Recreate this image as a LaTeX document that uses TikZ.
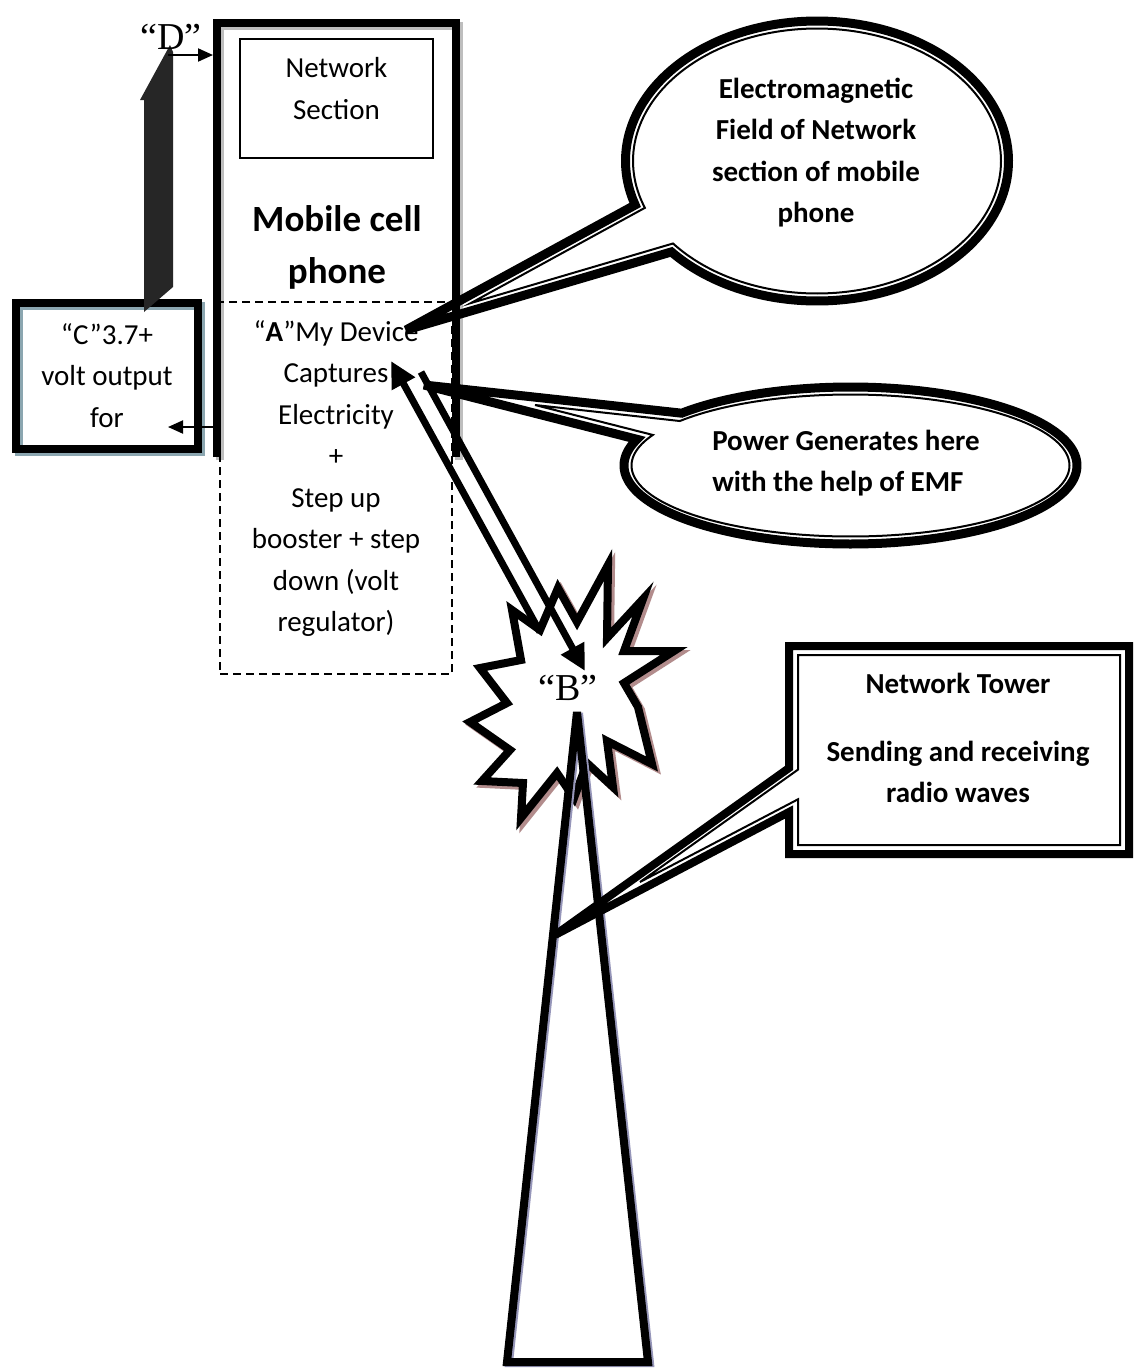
\documentclass[tikz,border=0pt]{standalone}
\usepackage{fontspec}
\setmainfont{Carlito}
\newfontfamily\timesfont{Liberation Serif}
\usetikzlibrary{calc,arrows.meta}

\definecolor{padgrey}{RGB}{190,190,190}
\definecolor{cboxgrey}{RGB}{139,166,176}
\definecolor{starshade}{RGB}{178,140,140}
\definecolor{towershade}{RGB}{150,150,185}
\definecolor{blockarrow}{RGB}{38,38,38}

\def\txtsize{\fontsize{29}{41.5}\selectfont}
\def\ovalpath(#1,#2)(#3:#4)(#5:#6){plot[domain=#5:#6, samples=180] ({#1+#3*cos(\x)},{#2+#4*sin(\x)})}
\def\burst{(608,565) -- (607,638) -- (643,599) -- (624,651) -- (674,651) -- (624,683) -- (638,707) -- (652,764) -- (607,741) -- (613,787) -- (587,763) -- (574,798) -- (557,773) -- (521,818) -- (523,783) -- (482,781) -- (510,750) -- (470,722) -- (507,703) -- (480,668) -- (521,660) -- (512,610) -- (540,630) -- (558,588) -- (577,622) -- cycle}

\begin{document}
\begin{tikzpicture}[x=1pt, y=-1pt,
		thinarrow/.style={line width=2pt, -{Triangle[length=15pt, width=13pt]}},
		fatarrow/.style={line width=7pt, -{Triangle[length=26pt, width=25pt]}},
		bodytext/.style={font=\txtsize, align=center},
		boldtext/.style={font=\bfseries\txtsize, align=center},
		quotemark/.style={font=\timesfont\fontsize{38}{42}\selectfont}]
		%%%%% START %%%%%
		
		\fill[white] (0,0) rectangle (1134,1371);
		\useasboundingbox (0,0) rectangle (1134,1371);
		
		% mobile phone
		\draw[line width=8pt, padgrey] (220,460) -- (220,26) -- (459,26) -- (459,460);
		\draw[line width=8pt] (217,457) -- (217,23) -- (456,23) -- (456,457);
		\node[draw, line width=1.5pt, minimum width=193pt, minimum height=119pt] (netbox) at (336.5,98.5) {};
		\node[bodytext] (nettext) at (336.5,88.5) {Network\\Section};
		\node[font=\bfseries\fontsize{37}{52}\selectfont, align=center] (phonetitle) at (337,247) {Mobile cell\\phone};
		
		\node[draw, line width=2pt, dash pattern=on 8pt off 5pt, minimum width=232pt, minimum height=372pt] (devbox) at (336,488) {};
		\node[bodytext] (devtext) at (336,478.5) {“\textbf{A}”My Device\\Captures\\Electricity\\+\\Step up\\booster + step\\down (volt\\regulator)};
		
		% output box C
		\draw[line width=8pt, cboxgrey] (19,306) rectangle (201,452);
		\node[draw, line width=8pt, minimum width=182pt, minimum height=146pt] (cbox) at (107,376) {};
		\node[bodytext] (ctext) at (107,375.5) {“C”3.7+\\volt output\\for};
		
		\fill[blockarrow] (144,312) -- (144,100) -- (140,100) -- (170,45) -- (173,52) -- (173,287) -- cycle;
		\node[quotemark] (dlabel) at (171,37) {“D”};
		\coordinate (dfoot) at (168,55);
		\coordinate (phoneside) at (213,55);
		\draw[thinarrow] (dfoot) -- (phoneside);
		\coordinate (devside) at (220,427);
		\coordinate (cside) at (168,427);
		\draw[thinarrow] (devside) -- (cside);
		
		% callouts
		\fill[white] (817,161) ellipse [x radius=191.5, y radius=140];
		\draw[line width=9pt, miter limit=5] \ovalpath(817,161)(191.5:140)(161.7:499.5) -- (406,330) -- cycle;
		\draw[line width=2pt] \ovalpath(817,161)(184:132.5)(159.3:501.5) -- (471,303) -- cycle;
		\node[boldtext] (emftext) at (816,152.5) {Electromagnetic\\Field of Network\\section of mobile\\phone};
		
		\fill[white] (850.5,465.5) ellipse [x radius=226.5, y radius=78.5];
		\draw[line width=9pt, miter limit=5] \ovalpath(850.5,465.5)(226.5:78.5)(221.8:559.5) -- (424,385) -- cycle;
		\draw[line width=2pt] \ovalpath(850.5,465.5)(219:71)(218.8:565.5) -- (535,405) -- cycle;
		\node[boldtext, align=left] (powertext) at (846,463) {Power Generates here\\with the help of EMF};
		
		% burst B and tower
		\draw[line width=8pt, starshade, shift={(3,3)}] \burst;
		\draw[line width=8pt, fill=white] \burst;
		\draw[line width=8pt, towershade, miter limit=3, shift={(2,1)}] (577,712) -- (507,1362) -- (648,1362) -- cycle;
		\draw[line width=8pt, miter limit=3] (577,712) -- (507,1362) -- (648,1362) -- cycle;
		
		\coordinate (upfoot) at (540,632);
		\coordinate (uphead) at (391,361);
		\coordinate (downfoot) at (421,372);
		\coordinate (downhead) at (585,671);
		\draw[fatarrow] (upfoot) -- (uphead);
		\draw[fatarrow] (downfoot) -- (downhead);
		\node[quotemark] (blabel) at (568,688) {“B”};
		
		% tower callout
		\draw[line width=8pt, fill=white] (789,768) -- (789,646) -- (1129,646) -- (1129,854) -- (789,854) -- (789,812) -- (555,935) -- cycle;
		\draw[line width=2pt] (798,769.6) -- (798,655) -- (1120,655) -- (1120,845) -- (798,845) -- (798,799.3) -- (640,882) -- cycle;
		\node[boldtext] (towertext) at (958,738) {Network Tower\\[26pt]Sending and receiving\\radio waves};
		
		%%%%% END %%%%%
\end{tikzpicture}
\end{document}
